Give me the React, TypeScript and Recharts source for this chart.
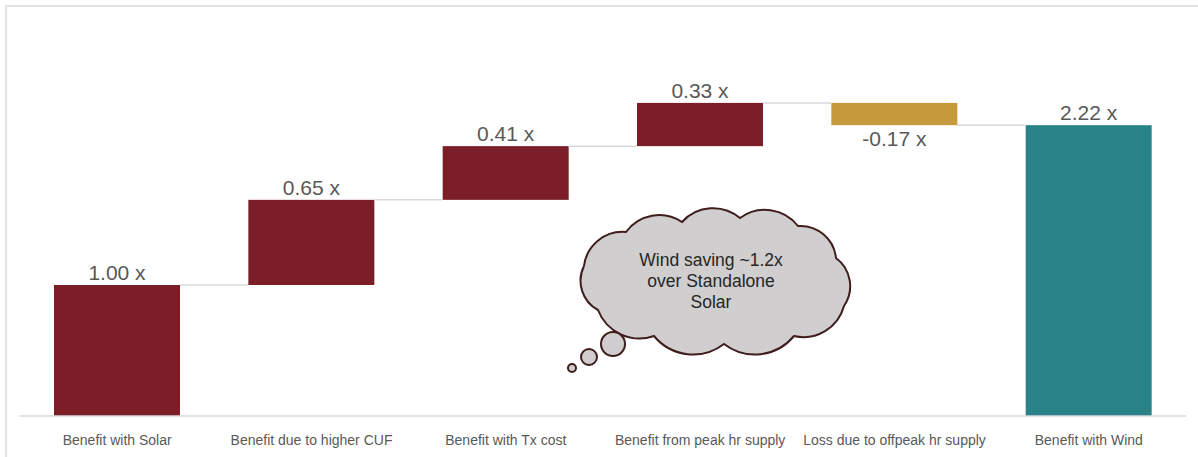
import { Bar, BarChart, LabelList, XAxis, YAxis } from "recharts";

const categories = [
  "Benefit with Solar",
  "Benefit due to higher CUF",
  "Benefit with Tx cost",
  "Benefit from peak hr supply",
  "Loss due to offpeak hr supply",
  "Benefit with Wind",
];
const deltas = [1.0, 0.65, 0.41, 0.33, -0.17, 2.22];
const kinds = ["start", "up", "up", "up", "down", "total"];
const cloudLines = ["Wind saving ~1.2x", "over Standalone", "Solar"];

const kindColor: Record<string, string> = {
  start: "#7b1e28",
  up: "#7b1e28",
  down: "#c69a3c",
  total: "#2a8289",
};

const GAP = 0.175;

let running = 0;
const data = categories.map((name, i) => {
  const d = deltas[i];
  const kind = kinds[i];
  let base = 0;
  let value = 0;
  if (kind === "total") {
    value = d;
  } else if (d >= 0) {
    base = running;
    value = d;
    running += d;
  } else {
    running += d;
    base = running;
    value = -d;
  }
  return {
    name,
    base,
    value,
    kind,
    label: `${d.toFixed(2)} x`,
  };
});

function WaterfallBar(props: any) {
  const { x, y, width, height, payload, index } = props;
  const step = width / (1 - 2 * GAP);
  const isLast = index === data.length - 1;
  const level = payload.kind === "down" ? y + height : y;
  return (
    <g>
      <rect x={x} y={y} width={width} height={height} fill={kindColor[payload.kind]} />
      {!isLast && (
        <line x1={x + width} x2={x + step} y1={level} y2={level} stroke="#d9d9d9" strokeWidth={1.5} />
      )}
    </g>
  );
}

function ValueLabel(props: any) {
  const { x, y, width, height, value } = props;
  const neg = String(value).startsWith("-");
  return (
    <text
      x={x + width / 2}
      y={neg ? y + height + 21 : y - 5}
      textAnchor="middle"
      fill="#595959"
      fontSize={21}
      fontFamily="Liberation Sans, Arial, sans-serif"
    >
      {value}
    </text>
  );
}

function Cloud() {
  const pts: [number, number][] = [
    [584, 266],
    [626, 232],
    [682, 222],
    [740, 218],
    [798, 226],
    [836, 258],
    [844, 306],
    [794, 336],
    [724, 344],
    [654, 336],
    [598, 310],
  ];
  let d = `M ${pts[0][0]} ${pts[0][1]}`;
  for (let i = 1; i <= pts.length; i++) {
    const [ax, ay] = pts[i - 1];
    const [bx, by] = pts[i % pts.length];
    const r = Math.hypot(bx - ax, by - ay) * 0.72;
    d += ` A ${r} ${r} 0 0 1 ${bx} ${by}`;
  }
  return (
    <svg width={1198} height={457} style={{ position: "absolute", left: 0, top: 0, pointerEvents: "none" }}>
      <path d={d} fill="#d0cece" stroke="#3f1d1d" strokeWidth={2} />
      <circle cx={613} cy={344} r={12} fill="#d0cece" stroke="#3f1d1d" strokeWidth={2} />
      <circle cx={589} cy={357} r={8} fill="#d0cece" stroke="#3f1d1d" strokeWidth={2} />
      <circle cx={572} cy={368} r={4} fill="#d0cece" stroke="#3f1d1d" strokeWidth={2} />
      {cloudLines.map((line, i) => (
        <text
          key={line}
          x={711}
          y={266 + i * 21}
          textAnchor="middle"
          fill="#262626"
          fontSize={17.5}
          fontFamily="Liberation Sans, Arial, sans-serif"
        >
          {line}
        </text>
      ))}
    </svg>
  );
}

export default function App() {
  return (
    <div style={{ position: "absolute", left: 0, top: 0, width: 1198, height: 457, overflow: "hidden", background: "#fff" }}>
      <div
        style={{
          position: "absolute",
          left: 5,
          top: 5,
          width: 1193,
          height: 452,
          borderLeft: "2px solid #e2e2e2",
          borderTop: "2px solid #e2e2e2",
          boxSizing: "border-box",
        }}
      />
      <BarChart
        width={1198}
        height={457}
        data={data}
        margin={{ top: 23, right: 12, left: 20, bottom: 0 }}
        barCategoryGap={`${GAP * 100}%`}
        style={{ position: "absolute", left: 0, top: 0 }}
      >
        <XAxis
          dataKey="name"
          height={41}
          tickLine={false}
          axisLine={{ stroke: "#d9d9d9", strokeWidth: 1.5 }}
          tickMargin={13}
          interval={0}
          tick={{ fill: "#595959", fontSize: 14, fontFamily: "Liberation Sans, Arial, sans-serif" }}
        />
        <YAxis hide domain={[0, 3]} />
        <Bar dataKey="base" stackId="w" fill="transparent" isAnimationActive={false} />
        <Bar dataKey="value" stackId="w" shape={WaterfallBar} isAnimationActive={false}>
          <LabelList dataKey="label" content={ValueLabel} />
        </Bar>
      </BarChart>
      <Cloud />
    </div>
  );
}
